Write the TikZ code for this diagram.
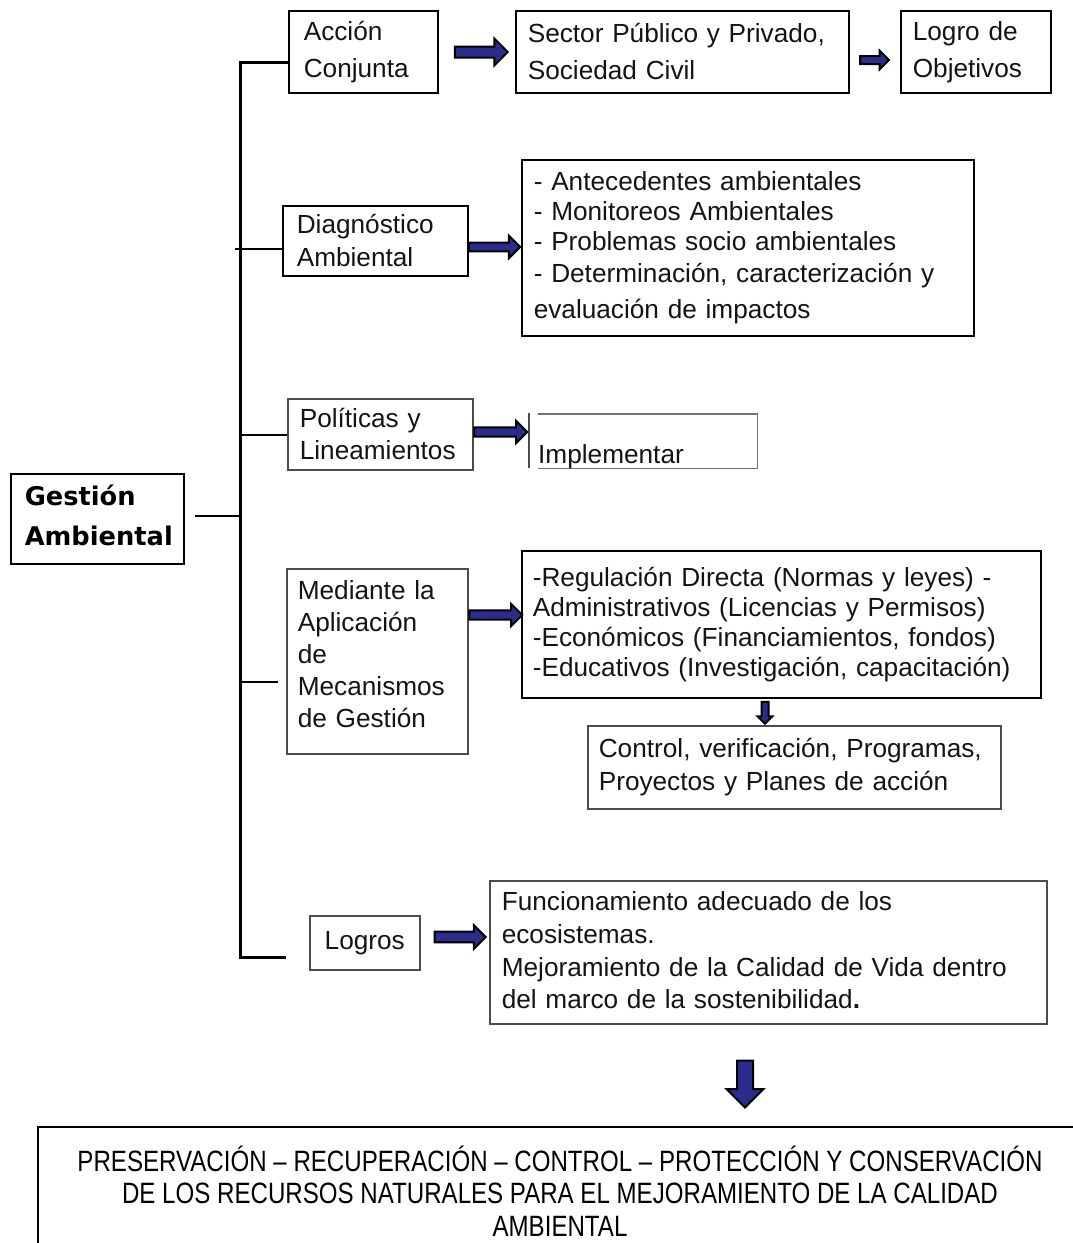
\documentclass[tikz,border=0pt]{standalone}
\usepackage{fontspec}
\setmainfont{Liberation Sans}
\newfontfamily\gfont{DejaVu Sans}
\newfontfamily\narrowfont[FakeStretch=0.82]{Liberation Sans}
\usetikzlibrary{shapes.arrows}
\definecolor{arrowblue}{RGB}{44,44,140}
\begin{document}
\begin{tikzpicture}[x=1bp,y=-1bp,
  box/.style={draw=black, line width=1.6bp, anchor=north west, align=left, inner ysep=0pt, text=black!92},
  gbox/.style={box, draw=black!70},
  txt/.style={font=\fontsize{26.3}{#1}\selectfont},
  barrow/.style={single arrow, draw=black, fill=arrowblue, line width=2bp, inner xsep=0pt, anchor=center},
  varrow/.style={single arrow, draw=black, fill=arrowblue, line width=2bp, inner ysep=0pt, anchor=center, shape border rotate=270},
  trunk/.style={line width=3bp, black, line join=miter}
]
\useasboundingbox (0,0) rectangle (1073,1243);
\fill[white] (0,0) rectangle (1073,1243);

% main box
\node[box, font=\gfont\bfseries\fontsize{25.8}{40}\selectfont, text=black,
      minimum width=173bp, minimum height=90bp, inner xsep=14bp, text width=145bp]
  (ges) at (10,473) {Gestión\\Ambiental\par\vspace{6bp}};

% top row
\node[box, txt=37, minimum width=149bp, minimum height=82bp, inner xsep=15bp, text width=119bp]
  (acc) at (288,10) {Acción\\Conjunta};
\node[box, txt=37, minimum width=333bp, minimum height=82bp, inner xsep=12bp, text width=309bp]
  (sec) at (515,10) {Sector Público y Privado,\\Sociedad Civil};
\node[box, txt=37, minimum width=150bp, minimum height=82bp, inner xsep=12bp, text width=126bp]
  (obj) at (900,10) {Logro de\\Objetivos};

% diagnostico
\node[box, txt=33, minimum width=185bp, minimum height=70bp, inner xsep=14bp, text width=157bp]
  (diag) at (282,205) {Diagnóstico\\Ambiental};
\node[box, txt=30, minimum width=452bp, minimum height=176bp, inner xsep=12bp, text width=428bp]
  (dlist) at (521,159) {- Antecedentes ambientales\\- Monitoreos Ambientales\\- Problemas socio ambientales\\[2bp]- Determinación, caracterización y\\[6bp]evaluación de impactos};

% politicas
\node[gbox, txt=32, minimum width=185bp, minimum height=71bp, inner xsep=12bp, text width=161bp]
  (pol) at (287,398) {Políticas y\\Lineamientos};
\node[anchor=north west, minimum width=219bp, minimum height=54bp, inner sep=0pt]
  (implbox) at (538,414) {};
\draw[black!55, line width=1.3bp] (implbox.north west) -- (implbox.north east) -- (implbox.south east) -- (implbox.south west);
\coordinate (implbar) at (529,413);
\draw[black!70, line width=1.3bp] (implbar) -- ++(0,55);
\node[anchor=base west, inner sep=0pt, font=\fontsize{26.3}{30}\selectfont, text=black!92]
  (impl) at (538,463) {Implementar};

% mecanismos
\node[gbox, txt=32, minimum width=181bp, minimum height=185bp, inner xsep=11bp, text width=159bp]
  (med) at (286,568) {Mediante la\\Aplicación\\de\\Mecanismos\\de Gestión\par\vspace{14bp}};
\node[box, txt=30, minimum width=519bp, minimum height=147bp, inner xsep=11bp, text width=497bp]
  (mlist) at (521,550) {-Regulación Directa (Normas y leyes) -\\Administrativos (Licencias y Permisos)\\-Económicos (Financiamientos, fondos)\\-Educativos (Investigación, capacitación)};
\node[gbox, txt=33, minimum width=413bp, minimum height=83bp, inner xsep=11bp, text width=391bp]
  (ctrl) at (587,725) {Control, verificación, Programas,\\Proyectos y Planes de acción};

% logros
\node[gbox, txt=30, minimum width=110bp, minimum height=54bp, inner xsep=0pt, align=center]
  (logros) at (309,915) {Logros};
\node[gbox, txt=33, minimum width=557bp, minimum height=143bp, inner xsep=12bp, text width=533bp]
  (llist) at (489,880) {Funcionamiento adecuado de los\\ecosistemas.\\Mejoramiento de la Calidad de Vida dentro\\del marco de la sostenibilidad\textbf{.}\par\vspace{4bp}};

% bottom box
\node[draw=black, line width=2bp, anchor=north west, minimum width=1060bp, minimum height=150bp, inner sep=0pt]
  (bot) at (37,1126) {};
\node[align=center, font=\narrowfont\fontsize{29.5}{32.5}\selectfont, text=black, inner sep=0pt]
  (bottxt) at (560,1191) {PRESERVACIÓN – RECUPERACIÓN – CONTROL – PROTECCIÓN Y CONSERVACIÓN\\DE LOS RECURSOS NATURALES PARA EL MEJORAMIENTO DE LA CALIDAD\\AMBIENTAL};

% trunk and branches
\coordinate (tTop) at (240,62);
\coordinate (tBot) at (240,957);
\draw[trunk] (tTop -| acc.west) -- (tTop) -- (tBot) -- ([xshift=-23bp]tBot -| logros.west);
\coordinate (bDiag) at (235,249);
\draw[trunk, line width=2.6bp] (bDiag) -- (bDiag -| diag.west);
\coordinate (bPol) at (240,435);
\draw[trunk, line width=2.6bp] (bPol) -- (bPol -| pol.west);
\coordinate (bGes) at (195,516);
\draw[trunk, line width=2.6bp] (bGes) -- (bGes -| tTop);
\coordinate (bMed) at (240,682);
\draw[trunk, line width=2.6bp] (bMed) -- ([xshift=-8bp]bMed -| med.west);

% block arrows
\node[barrow, minimum height=53bp, inner ysep=4.5bp, single arrow head extend=8bp] (a1) at (478.5,52) {};
\node[barrow, minimum height=29bp, inner ysep=3bp, single arrow head extend=5.5bp] (a2) at (872.5,60) {};
\node[barrow, minimum height=51bp, inner ysep=3.3bp, single arrow head extend=7bp] (a3) at (492.5,247) {};
\node[barrow, minimum height=53bp, inner ysep=3.6bp, single arrow head extend=6.5bp] (a4) at (498.5,432) {};
\node[barrow, minimum height=53bp, inner ysep=3.6bp, single arrow head extend=6.5bp] (a5) at (493.5,615) {};
\node[barrow, minimum height=51bp, inner ysep=4.3bp, single arrow head extend=6.5bp] (a6) at (457.5,937) {};
\node[varrow, minimum height=22bp, inner xsep=2.5bp, single arrow head extend=4bp] (a7) at (765,711) {};
\node[varrow, minimum height=47bp, inner xsep=7bp, single arrow head extend=10.5bp] (a8) at (745,1080) {};
\end{tikzpicture}
\end{document}
